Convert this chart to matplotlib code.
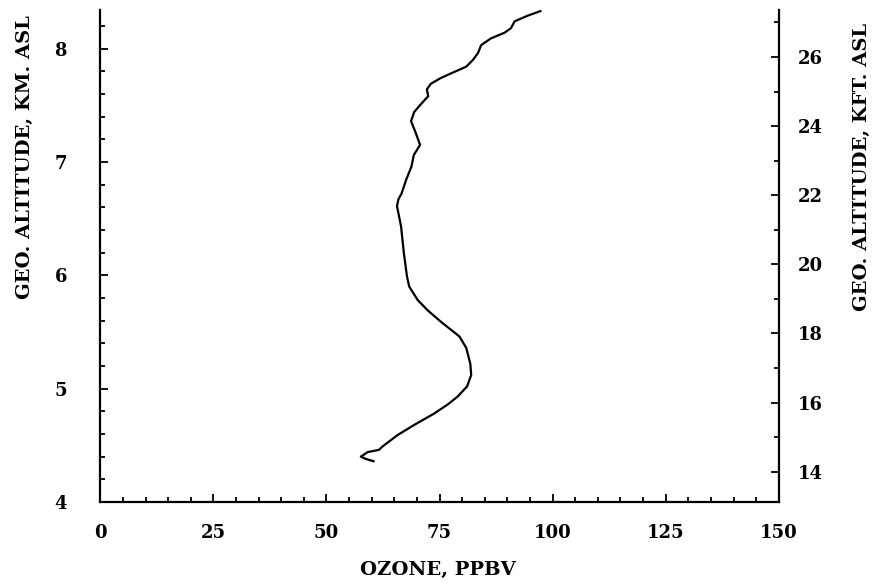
import numpy as np
import matplotlib
matplotlib.use("Agg")
import matplotlib.pyplot as plt
from matplotlib.ticker import MultipleLocator

# ozone profile (bottom of the sounding to the top)
ozone = [60.4, 58.7, 57.6, 59.1, 61.6, 62.4, 65.7, 69.4, 73.8, 76.8, 79.0, 81.1,
         82.0, 81.8, 80.9, 79.4, 75.3, 72.4, 70.2, 68.3, 67.8, 67.1, 66.5, 65.6,
         65.9, 66.6, 67.6, 68.8, 69.3, 70.7, 69.6, 68.7, 69.4, 70.9, 72.5, 72.2,
         73.1, 75.3, 77.5, 80.9, 82.4, 83.5, 84.2, 86.4, 89.4, 90.8, 91.6, 94.5,
         97.3]
alt_km = [4.36, 4.38, 4.40, 4.44, 4.46, 4.49, 4.59, 4.68, 4.78, 4.86, 4.93, 5.02,
          5.12, 5.22, 5.36, 5.46, 5.59, 5.69, 5.78, 5.90, 5.99, 6.20, 6.43, 6.61,
          6.67, 6.72, 6.84, 6.96, 7.06, 7.15, 7.27, 7.36, 7.44, 7.51, 7.58, 7.64,
          7.69, 7.74, 7.78, 7.84, 7.90, 7.96, 8.03, 8.09, 8.14, 8.18, 8.24, 8.29,
          8.33]

xticks = [0, 25, 50, 75, 100, 125, 150]
km_ticks = [4, 5, 6, 7, 8]
kft_ticks = [14, 16, 18, 20, 22, 24, 26]

FT_PER_KM = 1 / 0.3048
fnt = "DejaVu Serif"

fig = plt.figure(figsize=(8.76, 5.87), dpi=100)
ax = fig.add_axes([0.1145, 0.1448, 0.7745, 0.8382])
ax.plot(ozone, alt_km, color="black", lw=1.6)

ax.set_xlim(0, 150)
ax.set_ylim(4, 8.34)
ax.set_xticks(xticks)
ax.set_yticks(km_ticks)
ax.xaxis.set_minor_locator(MultipleLocator(5))
ax.yaxis.set_minor_locator(MultipleLocator(0.2))
ax.spines["top"].set_visible(False)
ax.spines["right"].set_visible(False)
for s in ["left", "bottom"]:
    ax.spines[s].set_linewidth(1.6)
ax.tick_params(which="both", direction="in", width=1.3)
ax.tick_params(which="major", length=6, labelsize=13, pad=24)
ax.tick_params(axis="x", which="major", pad=16)
ax.tick_params(which="minor", length=3.5)
for lab in ax.get_xticklabels() + ax.get_yticklabels():
    lab.set_family(fnt)
    lab.set_weight("bold")

ax2 = ax.twinx()
ax2.set_ylim(4 * FT_PER_KM, 8.34 * FT_PER_KM)
ax2.set_yticks(kft_ticks)
ax2.yaxis.set_minor_locator(MultipleLocator(1))
for s in ["left", "top", "bottom"]:
    ax2.spines[s].set_visible(False)
ax2.spines["right"].set_linewidth(1.6)
ax2.tick_params(which="both", direction="in", width=1.3)
ax2.tick_params(which="major", length=6, labelsize=13, pad=14)
ax2.tick_params(which="minor", length=3.5)
for lab in ax2.get_yticklabels():
    lab.set_family(fnt)
    lab.set_weight("bold")

fig.text(0.5, 0.029, "OZONE, PPBV", family=fnt, fontsize=14, weight="bold",
         ha="center", va="center")
fig.text(0.0285, 0.733, "GEO. ALTITUDE, KM. ASL", family=fnt, fontsize=14,
         weight="bold", rotation=90, ha="center", va="center")
fig.text(0.984, 0.716, "GEO. ALTITUDE, KFT. ASL", family=fnt, fontsize=14,
         weight="bold", rotation=90, ha="center", va="center")

fig.savefig("out.png", dpi=100)
